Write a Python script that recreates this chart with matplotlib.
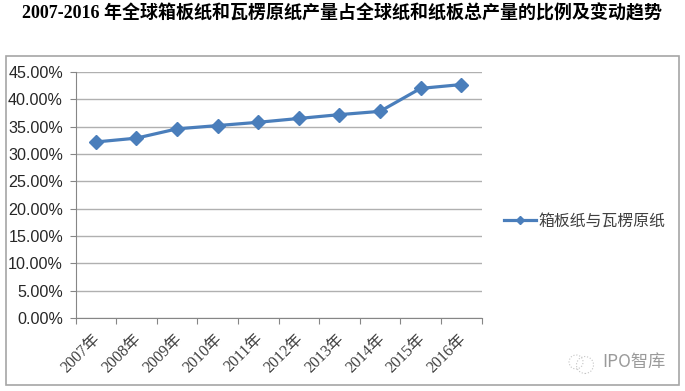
import matplotlib
matplotlib.use("Agg")
import matplotlib.pyplot as plt
from matplotlib.patches import Rectangle, Circle
import matplotlib.ticker as mticker

W, H = 685, 391
CJK = ["Noto Sans CJK SC", "DejaVu Sans"]

years = ["2007年", "2008年", "2009年", "2010年", "2011年",
         "2012年", "2013年", "2014年", "2015年", "2016年"]
share = [32.2, 32.9, 34.6, 35.2, 35.8, 36.5, 37.2, 37.8, 42.0, 42.7]
yticks = [0, 5, 10, 15, 20, 25, 30, 35, 40, 45]
series_name = "箱板纸与瓦楞原纸"
title = "2007-2016 年全球箱板纸和瓦楞原纸产量占全球纸和纸板总产量的比例及变动趋势"

BLUE = "#4a7ebb"

fig = plt.figure(figsize=(W / 100, H / 100), dpi=100)
fig.patch.set_facecolor("white")

# outer chart frame
fig.add_artist(Rectangle((6 / W, 1 - 385 / H), 672.5 / W, 329 / H,
                         transform=fig.transFigure, fill=False,
                         edgecolor="#a6a6a6", linewidth=1.2))

ax = fig.add_axes([75.5 / W, 1 - 318 / H, 406 / W, 246 / H])
x = list(range(len(years)))
ax.plot(x, share, color=BLUE, linewidth=2.3, marker="D", markersize=6.8,
        markerfacecolor=BLUE, markeredgecolor=BLUE, label=series_name, zorder=3)

ax.set_xlim(-0.5, len(years) - 0.5)
ax.set_ylim(0, 45)
ax.set_yticks(yticks)
ax.yaxis.set_major_formatter(mticker.FuncFormatter(lambda v, _: f"{v:.2f}%"))
ax.tick_params(axis="y", labelsize=11.6, length=4, color="#868686",
               labelcolor="#262626", pad=5)
for lab in ax.get_yticklabels():
    lab.set_family(["Liberation Sans", "DejaVu Sans"])

# ticks sit between categories
ax.set_xticks([i - 0.5 for i in range(len(years) + 1)])
ax.set_xticklabels([])
ax.tick_params(axis="x", length=4, color="#868686", direction="out")
for i, lab in zip(x, years):
    ax.annotate(lab, (i, 0), xycoords=("data", "axes fraction"),
                xytext=(-2.5, -9), textcoords="offset points",
                rotation=45, rotation_mode="anchor", ha="right", va="top",
                fontsize=11.5, color="#404040",
                family=["Liberation Serif", "Noto Sans CJK SC", "DejaVu Sans"])

ax.grid(axis="y", color="#b0b0b0", linewidth=1.0)
ax.set_axisbelow(True)
for side in ["top", "right"]:
    ax.spines[side].set_visible(False)
ax.spines["left"].set_color("#868686")
ax.spines["bottom"].set_color("#868686")

# title
fig.text(342.5 / W, 1 - 13 / H, title, ha="center", va="center", fontsize=12.95,
         fontweight="bold", color="black",
         family=["Liberation Serif", "Noto Sans CJK SC"])

# legend
fig.legend(*ax.get_legend_handles_labels(), loc="center left",
           bbox_to_anchor=(504 / W, 1 - 221.5 / H), frameon=False,
           handlelength=2.0, handletextpad=0.2, borderpad=0, borderaxespad=0,
           markerscale=0.6, prop={"family": CJK, "size": 11.4}, labelcolor="#404040")

# watermark
for cx, cy, r in [(576, 362, 7), (585, 365, 8.5)]:
    fig.add_artist(Circle((cx, H - cy), r, transform=None, fill=False,
                          edgecolor="#c4c4c4", linewidth=0.8, linestyle=":"))
fig.text(602 / W, 1 - 362 / H, "IPO智库", ha="left", va="center", fontsize=12.4,
         color="#9a9a9a", family=CJK)

fig.savefig("out.png", dpi=100, facecolor=fig.get_facecolor())
